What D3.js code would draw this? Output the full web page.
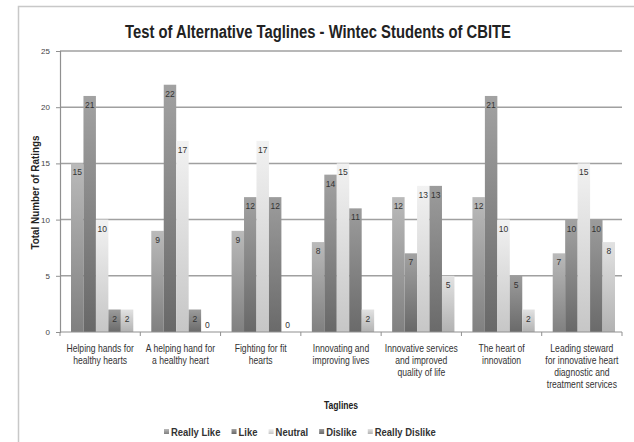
<!DOCTYPE html>
<html>
<head>
<meta charset="utf-8">
<script src="https://cdn.jsdelivr.net/npm/d3@7"></script>
<style>
  body { margin: 0; background: #fff; }
  svg { display: block; }
  text { font-family: "Liberation Sans Narrow", "Arial Narrow", "Liberation Sans", Arial, sans-serif; }
</style>
</head>
<body>
<svg id="chart"></svg>
<script>
// Chart data
var taglines = [
  ["Helping hands for", "healthy hearts"],
  ["A helping hand for", "a healthy heart"],
  ["Fighting for fit", "hearts"],
  ["Innovating and", "improving lives"],
  ["Innovative services", "and improved", "quality of life"],
  ["The heart of", "innovation"],
  ["Leading steward", "for innovative heart", "diagnostic and", "treatment services"]
];
var seriesNames = ["Really Like", "Like", "Neutral", "Dislike", "Really Dislike"];
var reallyLike = [15, 9, 9, 8, 12, 12, 7];
var like = [21, 22, 12, 14, 7, 21, 10];
var neutral = [10, 17, 17, 15, 13, 10, 15];
var dislike = [2, 2, 12, 11, 13, 5, 10];
var reallyDislike = [2, 0, 0, 2, 5, 2, 8];
var yTicks = [0, 5, 10, 15, 20, 25];

var seriesValues = [reallyLike, like, neutral, dislike, reallyDislike];

// gradient colours per series (top, bottom)
var shades = [
  ["#bababa", "#808080"],
  ["#a2a2a2", "#686868"],
  ["#f2f2f2", "#c6c6c6"],
  ["#9c9c9c", "#6a6a6a"],
  ["#e2e2e2", "#b2b2b2"]
];

var width = 634, height = 442;
var margin = { left: 60, right: 12, top: 51, bottom: 110 };
var narrow = 0.86; // no narrow font installed, so squeeze text horizontally

var svg = d3.select("#chart").attr("width", width).attr("height", height);

/*
** gradients
*/
var defs = svg.append("defs");
shades.forEach((s, i) => {
  let g = defs.append("linearGradient")
    .attr("id", "grad" + i)
    .attr("x1", 0).attr("y1", 0).attr("x2", 0).attr("y2", 1);
  g.append("stop").attr("offset", "0%").attr("stop-color", s[0]);
  g.append("stop").attr("offset", "100%").attr("stop-color", s[1]);
});

// outer frame of the chart area
svg.append("path")
  .attr("d", "M18.5," + height + "V6.5H" + width)
  .attr("fill", "none")
  .attr("stroke", "#c8c8c8")
  .attr("stroke-width", 1.5);

// title
svg.append("text")
  .attr("x", 125).attr("y", 38)
  .attr("textLength", 386)
  .attr("lengthAdjust", "spacingAndGlyphs")
  .style("font-size", "17.5px")
  .style("font-weight", "bold")
  .attr("fill", "#222")
  .text("Test of Alternative Taglines - Wintec Students of CBITE");

/*
** scales
*/
var plotLeft = margin.left, plotRight = width - margin.right;
var plotTop = margin.top, plotBottom = height - margin.bottom;

var x0 = d3.scaleBand()
  .domain(d3.range(taglines.length))
  .range([plotLeft, plotRight]);

var groupGap = 18;
var x1 = d3.scaleBand()
  .domain(d3.range(seriesNames.length))
  .range([groupGap / 2 + 2, x0.bandwidth() - groupGap / 2 + 2]);

var y = d3.scaleLinear().domain([0, 25]).range([plotBottom, plotTop]);

// gridlines
svg.append("g")
  .selectAll("line")
  .data(yTicks.filter(t => t > 0))
  .enter()
  .append("line")
    .attr("x1", plotLeft).attr("x2", plotRight)
    .attr("y1", d => y(d)).attr("y2", d => y(d))
    .attr("stroke", "#a0a0a0")
    .attr("stroke-width", 1.5);

// y axis
var yAxis = svg.append("g")
  .attr("transform", "translate(" + plotLeft + ",0)")
  .call(d3.axisLeft(y).tickValues(yTicks).tickSize(4).tickPadding(6));
yAxis.select(".domain").attr("stroke", "#909090").attr("stroke-width", 1.2);
yAxis.selectAll(".tick line").attr("stroke", "#909090");
yAxis.selectAll(".tick text")
  .style("font-size", "8px")
  .attr("fill", "#444");

// bars
var groups = svg.append("g")
  .selectAll(".group")
  .data(taglines)
  .enter()
  .append("g")
    .classed("group", true)
    .attr("transform", (d, i) => "translate(" + x0(i) + ",0)");

var bars = groups.selectAll(".bar")
  .data((d, gi) => seriesValues.map((vals, si) => ({ s: si, v: vals[gi] })))
  .enter()
  .append("g")
    .classed("bar", true);

bars.append("rect")
  .attr("x", d => x1(d.s))
  .attr("y", d => y(d.v))
  .attr("width", x1.bandwidth())
  .attr("height", d => y(0) - y(d.v))
  .attr("fill", d => "url(#grad" + d.s + ")");

bars.append("text")
  .text(d => d.v)
  .attr("x", d => x1(d.s) + x1.bandwidth() / 2)
  .attr("y", d => d.v === 0 ? y(0) - 4 : y(d.v) + 12)
  .attr("text-anchor", "middle")
  .style("font-size", "8.5px")
  .attr("fill", "#333");

// x axis
var xAxis = svg.append("g")
  .attr("transform", "translate(0," + plotBottom + ")");
xAxis.append("line")
  .attr("x1", plotLeft).attr("x2", plotRight)
  .attr("stroke", "#909090").attr("stroke-width", 1.2);
xAxis.selectAll(".xtick")
  .data(d3.range(taglines.length + 1))
  .enter()
  .append("line")
    .attr("x1", d => plotLeft + d * x0.step())
    .attr("x2", d => plotLeft + d * x0.step())
    .attr("y1", 0).attr("y2", 4)
    .attr("stroke", "#909090");

// category labels
svg.append("g")
  .selectAll("text")
  .data(taglines)
  .enter()
  .append("text")
    .attr("text-anchor", "middle")
    .attr("transform", (d, i) => "translate(" + (x0(i) + x0.bandwidth() / 2) + "," + (plotBottom + 20) + ") scale(" + narrow + ",1)")
    .style("font-size", "10px")
    .attr("fill", "#333")
  .selectAll("tspan")
  .data(d => d)
  .enter()
  .append("tspan")
    .attr("x", 0)
    .attr("y", (d, i) => i * 12)
    .text(d => d);

// axis titles
svg.append("text")
  .attr("transform", "translate(" + ((plotLeft + plotRight) / 2) + ",409) scale(" + narrow + ",1)")
  .attr("text-anchor", "middle")
  .style("font-size", "10px")
  .style("font-weight", "bold")
  .attr("fill", "#222")
  .text("Taglines");

svg.append("text")
  .attr("transform", "translate(39," + ((plotTop + plotBottom) / 2 + 1) + ") rotate(-90) scale(" + narrow + ",1)")
  .attr("text-anchor", "middle")
  .style("font-size", "11.5px")
  .style("font-weight", "bold")
  .attr("fill", "#222")
  .text("Total Number of Ratings");

/*
** legend: items spread evenly between legendStart and legendEnd
*/
var legendStart = 164, legendEnd = 436, legendY = 436;
var legend = svg.append("g")
  .selectAll(".legend")
  .data(seriesNames)
  .enter()
  .append("g")
    .classed("legend", true);

legend.append("rect")
  .attr("x", 0).attr("y", -7)
  .attr("width", 5).attr("height", 5)
  .attr("fill", (d, i) => "url(#grad" + i + ")");

legend.append("text")
  .attr("transform", "translate(7,0) scale(" + narrow + ",1)")
  .style("font-size", "11px")
  .style("font-weight", "bold")
  .attr("fill", "#333")
  .text(d => d);

let itemWidths = [];
legend.each(function() { itemWidths.push(this.getBBox().width); });
let legendGap = (legendEnd - legendStart - d3.sum(itemWidths)) / (seriesNames.length - 1);
let cursor = legendStart;
legend.attr("transform", (d, i) => {
  let pos = cursor;
  cursor += itemWidths[i] + legendGap;
  return "translate(" + pos + "," + legendY + ")";
});
</script>
</body>
</html>
